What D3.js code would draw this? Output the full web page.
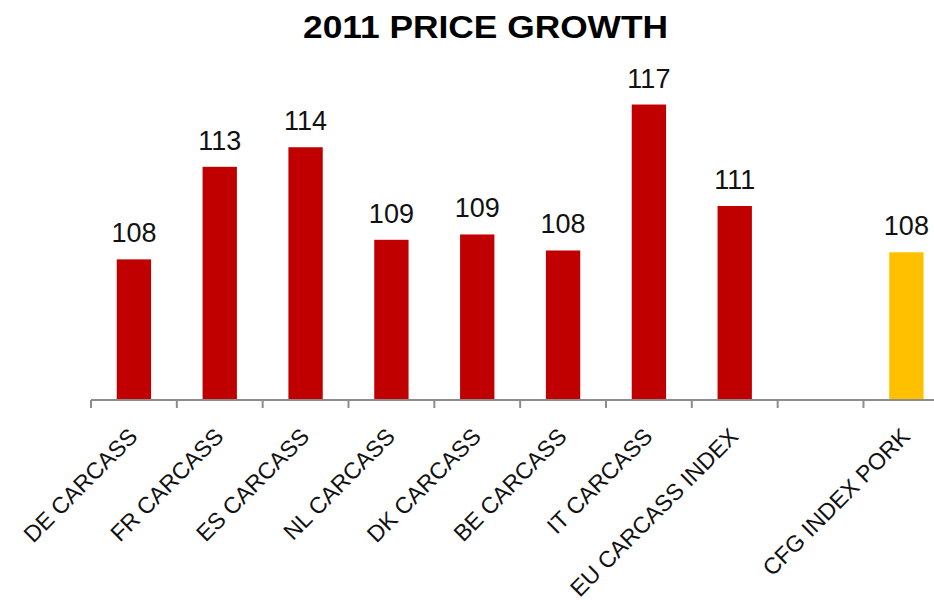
<!DOCTYPE html>
<html>
<head>
<meta charset="utf-8">
<script src="https://cdn.jsdelivr.net/npm/d3@7"></script>
<style>
  body { margin: 0; background: #fff; }
  svg { display: block; }
</style>
</head>
<body>
<svg id="chart" width="934" height="606"></svg>
<script>
"use strict";

// 카테고리 (빈 칸 하나 포함)
const categories = [
  "DE CARCASS", "FR CARCASS", "ES CARCASS", "NL CARCASS", "DK CARCASS",
  "BE CARCASS", "IT CARCASS", "EU CARCASS INDEX", "", "CFG INDEX PORK"
];
// 값 (빈 칸은 null)
const values = [107.9, 113.1, 114.2, 109.0, 109.3, 108.4, 116.6, 110.9, null, 108.3];
// 막대 색 구분
const barColors = ["red", "red", "red", "red", "red", "red", "red", "red", null, "yellow"];
const colorMap = { red: "#C00000", yellow: "#FFC000" };

const svg = d3.select("#chart");

const x = d3.scaleBand()
  .domain(d3.range(categories.length))
  .range([91, 949.3])
  .paddingInner(0.6)
  .paddingOuter(0.3);

const y = d3.scaleLinear().domain([100, 120]).range([400, 44]);

// 제목
svg.append("text")
  .attr("x", 485.5)
  .attr("y", 38)
  .attr("text-anchor", "middle")
  .style("font-family", "'Liberation Sans', Arial, sans-serif")
  .style("font-weight", "bold")
  .style("font-size", "32px")
  .attr("textLength", 365)
  .attr("lengthAdjust", "spacingAndGlyphs")
  .text("2011 PRICE GROWTH");

const data = categories.map((c, i) => ({ i, cat: c, v: values[i], col: barColors[i] }))
  .filter((d) => d.v !== null);

// 막대
svg.append("g")
  .selectAll("rect")
  .data(data)
  .join("rect")
  .attr("x", (d) => x(d.i))
  .attr("width", x.bandwidth())
  .attr("y", (d) => y(d.v))
  .attr("height", (d) => y(100) - y(d.v))
  .attr("fill", (d) => colorMap[d.col]);

// 값 라벨
svg.append("g")
  .selectAll("text")
  .data(data)
  .join("text")
  .attr("x", (d) => x(d.i) + x.bandwidth() / 2)
  .attr("y", (d) => y(d.v) - 17)
  .attr("text-anchor", "middle")
  .style("font-family", "'Liberation Sans', Arial, sans-serif")
  .style("font-size", "27px")
  .style("fill", "#111")
  .text((d) => d3.format(".0f")(d.v));

// x 축 (선 + 눈금)
const step = x.step();
const axisG = svg.append("g").attr("stroke", "#8c8c8c").attr("stroke-width", 2);
axisG.append("line")
  .attr("x1", 91).attr("x2", 949.3)
  .attr("y1", 400).attr("y2", 400);
axisG.selectAll("line.tick")
  .data(d3.range(categories.length + 1))
  .join("line")
  .attr("class", "tick")
  .attr("x1", (d) => 91 + d * step)
  .attr("x2", (d) => 91 + d * step)
  .attr("y1", 400)
  .attr("y2", 408);

// x 라벨 (-45도 회전)
svg.append("g")
  .selectAll("text")
  .data(categories.map((c, i) => ({ c, i })))
  .join("text")
  .attr("transform", (d) => `translate(${x(d.i) + x.bandwidth() / 2 + 5}, 438) rotate(-45)`)
  .attr("text-anchor", "end")
  .style("font-family", "'Liberation Sans', Arial, sans-serif")
  .style("font-size", "23px")
  .style("fill", "#111")
  .text((d) => d.c);
</script>
</body>
</html>
